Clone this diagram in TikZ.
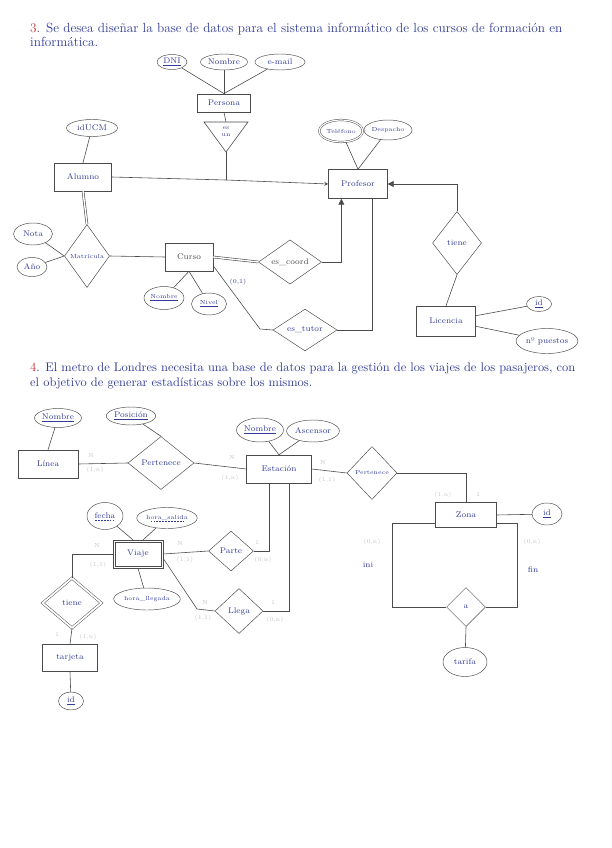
\documentclass[tikz,border=0pt]{standalone}
\usetikzlibrary{shapes.geometric,arrows.meta,calc}

\definecolor{tinta}{RGB}{50,60,150}
\definecolor{lapiz}{RGB}{75,75,75}
\definecolor{rojo}{RGB}{200,55,55}

\begin{document}
\begin{tikzpicture}[x=0.03cm, y=-0.03cm,
	>=stealth,
	every node/.style={font=\scriptsize, text=tinta},
	sz/.style 2 args={minimum width=#1cm, minimum height=#2cm},
	entity/.style={draw=lapiz, rectangle, inner sep=1pt},
	attr/.style={draw=lapiz, ellipse, inner sep=0.5pt},
	multi/.style={attr, double, double distance=1pt},
	rel/.style={draw=lapiz, diamond, inner sep=0pt},
	idrel/.style={rel, double, double distance=1.5pt},
	card/.style={text=gray!45, font=\tiny, inner sep=0pt},
	link/.style={draw=lapiz, line width=0.5pt},
	dlink/.style={link, double, double distance=1.2pt},
	tri/.style={link, -{Triangle[length=5pt,width=5pt]}},
	subr/.style={draw=tinta, line width=0.4pt, dashed, dash pattern=on 1.5pt off 1pt},
	enun/.style={anchor=north west, align=left, inner sep=0pt, font=\fontsize{10.6}{12.2}\selectfont},
	]
	\useasboundingbox[fill=white] (0,0) rectangle (611,848);
	
	% Enunciados
	\node[enun, font=\fontsize{11.3}{12.2}\selectfont] (titulo3) at (30,23)
	{\textcolor{rojo}{3}. Se desea diseñar la base de datos para el sistema informático de los cursos de formación en\\
		informática.};
	\node[enun] (titulo4) at (30,363)
	{\textcolor{rojo}{4}. El metro de Londres necesita una base de datos para la gestión de los viajes de los pasajeros, con\\
		el objetivo de generar estadísticas sobre los mismos.};
	
	%%% Ejercicio 3
	% Persona y especializacion
	\node[attr, sz={0.9}{0.45}] (dni) at (172,62) {\underline{DNI}};
	\node[attr, sz={1.35}{0.48}] (pnombre) at (224,62) {Nombre};
	\node[attr, sz={1.5}{0.48}] (email) at (280,62) {e-mail};
	\node[entity, sz={1.6}{0.55}] (persona) at (224,103) {Persona};
	\coordinate (isaL) at (204,122);
	\coordinate (isaR) at (248,122);
	\coordinate (isaB) at (226,152);
	\coordinate (isaJ) at (226,180);
	\draw[link] (isaL) -- (isaR) -- (isaB) -- cycle;
	\node[align=center, font=\tiny, inner sep=0pt] (isa) at (226,132) {es\\un};
	
	\node[attr, sz={1.53}{0.51}] (idalum) at (92,128) {idUCM};
	\node[entity, sz={1.71}{0.84}] (alumno) at (83,177) {Alumno};
	\node[entity, sz={1.77}{0.87}] (profesor) at (358,184) {Profesor};
	\node[multi, sz={1.26}{0.66}, font=\tiny] (telefono) at (341,131) {Teléfono};
	\node[attr, sz={1.41}{0.6}, font=\tiny] (despacho) at (388,130) {Despacho};
	
	% Matricula y curso
	\node[rel, sz={1.35}{1.89}, font=\tiny] (matricula) at (87,256) {Matrícula};
	\node[attr, sz={1.17}{0.66}] (nota) at (33,234) {Nota};
	\node[attr, sz={0.9}{0.57}] (anio) at (32,267) {Año};
	\node[entity, sz={1.44}{0.84}, text=lapiz] (curso) at (189,257) {Curso};
	\node[attr, sz={1.14}{0.69}, font=\tiny] (cnombre) at (164,298) {\underline{Nombre}};
	\node[attr, sz={1.05}{0.66}, font=\tiny] (nivel) at (209,304) {\underline{Nivel}};
	\node[rel, sz={1.89}{1.32}, text=lapiz] (escoord) at (290,262) {es\_coord};
	\node[rel, sz={1.92}{1.2}] (estutor) at (305,330) {es\_tutor};
	\node[inner sep=0pt, font=\tiny] (card01) at (238,282) {(0,1)};
	
	% Licencia
	\node[rel, sz={1.47}{1.89}] (tiene) at (457,243) {tiene};
	\node[entity, sz={1.77}{0.9}] (licencia) at (446,321) {Licencia};
	\node[attr, sz={0.75}{0.45}] (lid) at (539,304) {\underline{id}};
	\node[attr, sz={1.8}{0.75}] (puestos) at (547,341) {nº puestos};
	
	\coordinate (pin1) at ($(profesor.south west)!0.22!(profesor.south east)$);
	\coordinate (pin2) at ($(profesor.south west)!0.74!(profesor.south east)$);
	\coordinate (tut) at (260,329);
	
	\foreach \a in {dni,pnombre,email}
	\draw[link] (\a) -- (persona.north);
	\draw[link] (persona.south) -- ($(isaL)!0.5!(isaR)$);
	\draw[link] (isaB) -- (isaJ);
	\draw[link, ->] (alumno.east) -- (isaJ) -- (profesor.west);
	\draw[link] (idalum) -- (alumno.north);
	\draw[link] (telefono) -- (profesor.north);
	\draw[link] (despacho) -- (profesor.north);
	\draw[dlink] (alumno.south) -- (matricula.north);
	\draw[link] (nota) -- (matricula.west);
	\draw[link] (anio) -- (matricula.west);
	\draw[link] (matricula.east) -- (curso.west);
	\draw[link] (curso.south) -- (cnombre);
	\draw[link] (curso.south) -- (nivel);
	\draw[dlink] (curso.east) -- (escoord.west);
	\draw[tri] (escoord.east) -| (pin1);
	\draw[link] (curso.-20) -- (tut) -- (estutor.west);
	\draw[link] (estutor.east) -| (pin2);
	\draw[tri] (tiene.north) |- (profesor.east);
	\draw[link] (tiene.south) -- (licencia.north);
	\draw[link] (licencia.10) -- (lid);
	\draw[link] (licencia.-10) -- (puestos);
	
	%%% Ejercicio 4
	% Linea, estacion y zona
	\node[entity, sz={1.8}{0.84}] (linea) at (48,464) {Línea};
	\node[attr, sz={1.29}{0.57}] (lnombre) at (58,418) {\underline{Nombre}};
	\node[rel, sz={1.98}{1.59}] (pert1) at (161,463) {Pertenece};
	\node[attr, sz={1.29}{0.54}] (posicion) at (131,416) {\underline{Posición}};
	\node[entity, sz={1.95}{0.84}] (estacion) at (279,469) {Estación};
	\node[attr, sz={1.2}{0.72}] (enombre) at (260,430) {\underline{Nombre}};
	\node[attr, sz={1.41}{0.66}] (ascensor) at (313,431) {Ascensor};
	\node[rel, sz={1.5}{1.59}, font=\tiny] (pert2) at (372,473) {Pertenece};
	\node[entity, sz={1.83}{0.75}] (zona) at (466,515) {Zona};
	\node[attr, sz={0.9}{0.66}] (zid) at (547,514) {\underline{id}};
	\node[rel, sz={1.17}{1.17}] (a) at (466,607) {a};
	\node[attr, sz={1.32}{0.87}] (tarifa) at (465,662) {tarifa};
	\node[inner sep=0pt] (ini) at (368,565) {ini};
	\node[inner sep=0pt] (fin) at (533,570) {fin};
	
	% Viaje (entidad debil) y tarjeta
	\node[entity, sz={1.5}{0.84}] (viaje) at (138,554) {Viaje};
	\draw[lapiz] ($(viaje.north west)+(2pt,-2pt)$) rectangle ($(viaje.south east)+(-2pt,2pt)$);
	\node[attr, sz={1.08}{0.81}] (fecha) at (105,516) {fecha};
	\node[attr, sz={1.59}{0.63}, font=\tiny] (hsalida) at (167,518) {hora\_salida};
	\node[attr, sz={1.68}{0.66}, font=\tiny] (hllegada) at (147,599) {hora\_llegada};
	\node[rel, sz={1.35}{1.2}] (parte) at (231,551) {Parte};
	\node[rel, sz={1.44}{1.35}] (llega) at (239,611) {Llega};
	\node[idrel, sz={1.77}{1.5}] (vtiene) at (72,603) {tiene};
	\node[entity, sz={1.65}{0.81}] (tarjeta) at (70,658) {tarjeta};
	\node[attr, sz={0.75}{0.54}] (tid) at (71,701) {\underline{id}};
	% clave parcial
	\draw[subr] ([xshift=-8.5pt, yshift=-1.6pt]fecha.base) -- ([xshift=8.5pt, yshift=-1.6pt]fecha.base);
	\draw[subr] ([xshift=-14pt, yshift=-1.6pt]hsalida.base) -- ([xshift=14pt, yshift=-1.6pt]hsalida.base);
	
	\coordinate (bini) at (392,607);
	\coordinate (bfin) at (517,607);
	\coordinate (vl) at (197,609);
	\coordinate (ep) at ($(estacion.south west)!0.35!(estacion.south east)$);
	\coordinate (el) at ($(estacion.south west)!0.65!(estacion.south east)$);
	
	\draw[link] (lnombre) -- (linea.north);
	\draw[link] (posicion) -- (pert1.north);
	\draw[link] (linea.east) -- (pert1.west);
	\draw[link] (pert1.east) -- (estacion.west);
	\draw[link] (enombre) -- (estacion.north);
	\draw[link] (ascensor) -- (estacion.north);
	\draw[link] (estacion.east) -- (pert2.west);
	\draw[link] (pert2.east) -| (zona.north);
	\draw[link] (zona.east) -- (zid);
	\draw[link] (zona.195) -| (bini) -- (a.west);
	\draw[link] (zona.-15) -| (bfin) -- (a.east);
	\draw[link] (a.south) -- (tarifa);
	
	\draw[link] (fecha) -- (viaje.110);
	\draw[link] (hsalida) -- (viaje.70);
	\draw[link] (viaje.south) -- (hllegada);
	\draw[link] (viaje.east) -- (parte.west);
	\draw[link] (parte.east) -| (ep);
	\draw[link] (viaje.-10) -- (vl) -- (llega.west);
	\draw[link] (llega.east) -| (el);
	\draw[link] (viaje.west) -| (vtiene.north);
	\draw[link] (vtiene.south) -- (tarjeta.north);
	\draw[link] (tarjeta.south) -- (tid);
	
	% Cardinalidades
	\foreach \x/\y/\txt [count=\i] in {
		91/455/N, 95/470/{(1,n)}, 232/457/N, 230/478/{(1,n)},
		323/462/N, 327/480/{(1,1)}, 443/495/{(1,n)}, 478/495/1,
		372/542/{(0,n)}, 532/542/{(0,n)},
		97/545/N, 98/565/{(1,1)}, 180/543/N, 185/560/{(1,1)},
		257/543/1, 263/560/{(0,n)}, 205/602/N, 203/618/{(1,1)},
		273/603/1, 275/620/{(0,n)}, 57/635/1, 88/637/{(1,n)}}
	\node[card] (card\i) at (\x,\y) {\txt};
\end{tikzpicture}
\end{document}
